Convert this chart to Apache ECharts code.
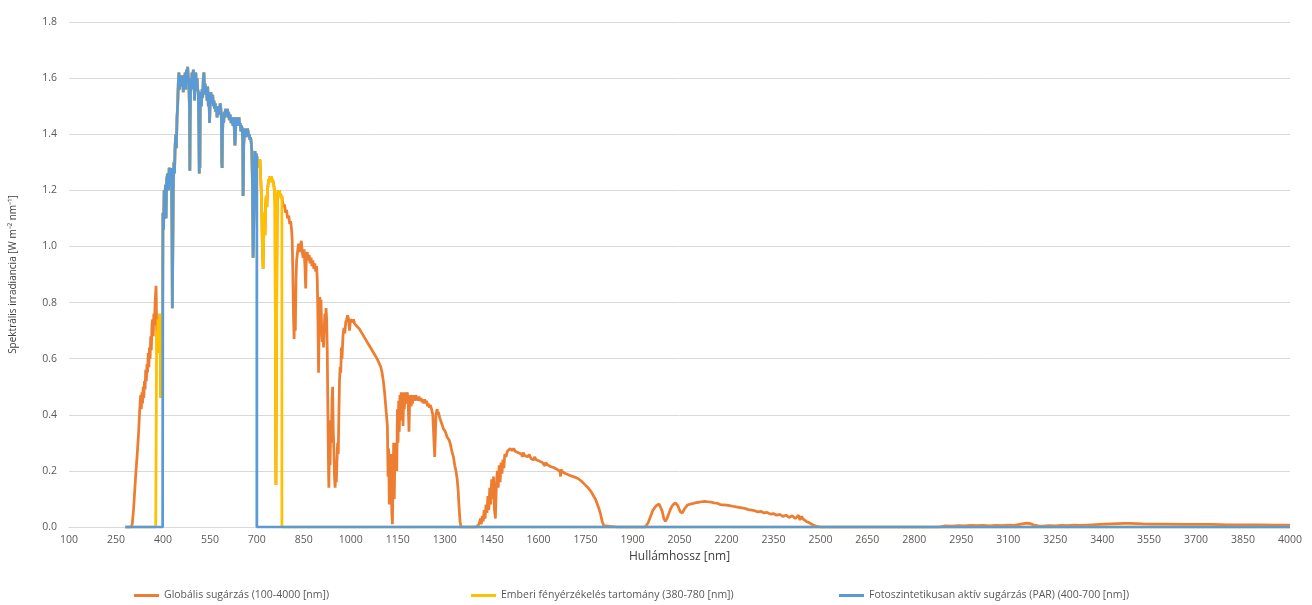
<!DOCTYPE html>
<html>
<head>
<meta charset="utf-8">
<script src="https://cdn.jsdelivr.net/npm/echarts@6/dist/echarts.min.js"></script>
<style>
html,body{margin:0;padding:0;background:#fff;}
#chart{width:1312px;height:605px;}
</style>
</head>
<body>
<div id="chart"></div>
<script>
// Tick labels of the wavelength axis (nm)
const xTickLabels = [100,250,400,550,700,850,1000,1150,1300,1450,1600,1750,1900,2050,2200,2350,2500,2650,2800,2950,3100,3250,3400,3550,3700,3850,4000];

// Series names
const seriesNames = [
  'Globális sugárzás (100-4000 [nm])',
  'Emberi fényérzékelés tartomány (380-780 [nm])',
  'Fotoszintetikusan aktív sugárzás (PAR) (400-700 [nm])'
];

// Ranges of the two sub-band series (nm)
const visibleRange = [380, 780];
const parRange = [400, 700];

// Global spectral irradiance [W m-2 nm-1]: [wavelength nm, value]
const globalUV = [
  [280,0],[290,0],[298,0],[302,0.01],[306,0.06],[310,0.13],[314,0.2],[318,0.26],[322,0.33],[325,0.4],
  [327,0.44],[329,0.47],[331,0.42],[333,0.48],[335,0.44],[337,0.5],[339,0.46],[341,0.52],[343,0.49],
  [345,0.56],[347,0.52],[349,0.58],[351,0.55],[353,0.62],[355,0.57],[357,0.64],[359,0.6],[361,0.68],
  [363,0.63],[365,0.72],[367,0.74],[369,0.68],[371,0.76],[373,0.72],[375,0.8],[377,0.84],[378,0.86],
  [379,0.8],[380,0.7],[382,0.62],[384,0.74],[386,0.66],[388,0.72],[390,0.76],[392,0.58],[393,0.46],
  [394,0.62],[396,0.48],[397,0.52],[399,0.78]
];
const globalVis = [
  [400,1.12],[402,1.06],[404,1.2],[406,1.16],[408,1.22],[410,1.1],[412,1.24],[415,1.26],[418,1.2],
  [420,1.28],[423,1.27],[425,1.22],[427,1.28],[429,1.05],[430,0.78],[431,0.9],[433,1.2],[435,1.3],
  [437,1.26],[439,1.36],[441,1.4],[443,1.35],[445,1.46],[447,1.5],[449,1.58],[451,1.62],[453,1.56],
  [455,1.6],[457,1.58],[459,1.61],[461,1.57],[463,1.6],[465,1.55],[467,1.61],[469,1.58],[471,1.62],
  [473,1.56],[475,1.63],[477,1.6],[479,1.64],[481,1.6],[483,1.58],[485,1.48],[486,1.27],[487,1.45],
  [489,1.6],[491,1.56],[493,1.62],[495,1.58],[497,1.63],[499,1.6],[501,1.52],[503,1.58],[505,1.62],
  [507,1.56],[509,1.6],[511,1.56],[513,1.55],[515,1.4],[516,1.26],[517,1.35],[518,1.28],[519,1.48],
  [521,1.55],[523,1.5],[525,1.56],[527,1.53],[529,1.6],[531,1.62],[533,1.55],[535,1.58],[537,1.54],
  [539,1.56],[541,1.52],[543,1.57],[545,1.5],[547,1.54],[549,1.44],[551,1.52],[553,1.55],[555,1.53],
  [557,1.51],[559,1.54],[561,1.5],[563,1.52],[565,1.49],[567,1.51],[569,1.48],[571,1.5],[573,1.46],
  [575,1.49],[577,1.47],[579,1.5],[581,1.48],[583,1.51],[585,1.49],[587,1.45],[588,1.3],[589,1.28],
  [590,1.38],[592,1.47],[594,1.44],[596,1.48],[598,1.46],[600,1.49],[602,1.47],[604,1.48],[606,1.49],
  [608,1.46],[610,1.48],[612,1.45],[614,1.47],[616,1.46],[618,1.44],[620,1.46],[622,1.45],[624,1.43],
  [626,1.46],[628,1.42],[630,1.36],[631,1.38],[633,1.44],[635,1.46],[637,1.43],[639,1.45],[641,1.44],
  [643,1.46],[645,1.43],[647,1.44],[649,1.41],[651,1.43],[653,1.42],[655,1.38],[656,1.18],[657,1.22],
  [658,1.36],[660,1.4],[662,1.42],[664,1.39],[666,1.42],[668,1.4],[670,1.42],[672,1.41],[674,1.39],
  [676,1.4],[678,1.38],[680,1.39],[682,1.37],[684,1.34],[686,1.22],[688,0.96],[689,1.0],[690,1.08],
  [692,1.2],[694,1.34],[696,1.3],[698,1.33],[700,1.32],
  [702,1.3],[704,1.31],[706,1.28],[708,1.3],[710,1.31],[712,1.25],[714,1.2],[716,1.1],[718,0.98],
  [720,0.92],[722,1.05],[724,1.12],[726,1.04],[728,1.15],[730,1.18],[732,1.14],[734,1.2],[736,1.22],
  [738,1.24],[740,1.23],[742,1.25],[744,1.24],[746,1.25],[748,1.23],[750,1.24],[752,1.23],[754,1.22],
  [756,1.2],[758,1.15],[759,0.8],[760,0.3],[761,0.15],[762,0.4],[763,0.7],[764,0.95],[765,1.1],
  [766,1.18],[768,1.2],[770,1.19],[772,1.2],[774,1.18],[776,1.19],[778,1.17],[780,1.18]
];
const globalNIR1 = [
  [782,1.16],[785,1.14],[788,1.15],[792,1.12],[795,1.13],[798,1.1],[802,1.11],[805,1.08],[808,1.09],
  [811,1.06],[813,1.02],[815,0.9],[817,0.75],[819,0.67],[821,0.8],[823,0.7],[825,0.88],[827,0.95],
  [830,0.98],[833,1.01],[836,0.98],[839,1.0],[842,1.02],[845,0.98],[848,0.96],[851,0.99],[854,0.92],
  [856,0.85],[858,0.96],[861,0.98],[864,0.95],[867,0.97],[870,0.94],[873,0.96],[876,0.93],[879,0.95],
  [882,0.92],[885,0.94],[888,0.91],[891,0.93],[893,0.88],[895,0.75],[897,0.55],[899,0.7],[901,0.82],
  [903,0.78],[905,0.81],[907,0.7],[909,0.66],[911,0.72],[913,0.64],[915,0.7],[917,0.76],[919,0.72],
  [921,0.78],[923,0.74],[925,0.62],[927,0.4],[929,0.2],[930,0.14],[932,0.3],[934,0.22],[936,0.38],
  [938,0.3],[940,0.45],[942,0.5],[944,0.35],[946,0.28],[948,0.18],[950,0.14],[952,0.2],[954,0.16],
  [956,0.24],[958,0.3],[960,0.26],[962,0.4],[964,0.52],[966,0.57],[968,0.55],[970,0.64],[972,0.6],
  [975,0.68],[978,0.71],[981,0.69],[984,0.73],[987,0.74],[990,0.755],[993,0.74],[996,0.7],[999,0.74]
];
const globalNIR2 = [
  [1003,0.745],[1006,0.73],[1009,0.74],[1012,0.725],[1016,0.73],[1020,0.715],[1024,0.72],[1028,0.705],
  [1032,0.71],[1036,0.69],[1040,0.695],[1044,0.675],[1048,0.68],[1052,0.66],[1056,0.665],[1060,0.645],
  [1064,0.65],[1068,0.63],[1072,0.635],[1076,0.615],[1080,0.62],[1084,0.6],[1088,0.6],[1092,0.58],
  [1096,0.57],[1100,0.55],[1104,0.52],[1108,0.48],
  [1111,0.44],[1114,0.4],[1117,0.36],[1119,0.18],[1121,0.28],[1123,0.08],[1125,0.22],[1127,0.12],
  [1129,0.26],[1131,0.05],[1133,0.01],[1135,0.15],[1137,0.3],[1139,0.1],[1141,0.27],[1143,0.22],
  [1145,0.3],[1147,0.2],[1149,0.42],[1151,0.3],[1153,0.45],[1155,0.34],[1157,0.47],[1159,0.38],
  [1161,0.48],[1163,0.4],[1165,0.48],[1167,0.36],[1169,0.47],[1171,0.42],[1174,0.48],[1177,0.44],
  [1180,0.48],[1183,0.46],[1186,0.34],[1188,0.45],[1191,0.47],[1193,0.43],[1195,0.46],[1197,0.44],
  [1199,0.47],[1201,0.45],[1203,0.47],[1206,0.45],[1208,0.47],[1211,0.455],[1213,0.465],[1216,0.45],
  [1218,0.465],[1221,0.45],[1224,0.46],[1227,0.445],[1230,0.455],[1233,0.44],[1236,0.455],[1239,0.44],
  [1242,0.45],[1245,0.43],[1248,0.44],[1251,0.425],[1254,0.435],[1258,0.42],[1262,0.4],[1266,0.3],
  [1268,0.25],[1270,0.32],[1272,0.4],[1276,0.42],[1278,0.4],[1280,0.41],[1284,0.39],[1287,0.385],
  [1290,0.37],[1293,0.365],[1296,0.35],[1299,0.355],[1302,0.34],[1305,0.335],[1308,0.32],[1311,0.325],
  [1314,0.31],[1317,0.3],[1319,0.29],[1322,0.275],[1324,0.265],[1328,0.25],[1332,0.22],[1336,0.2],
  [1340,0.17],[1343,0.13],[1346,0.07],[1349,0.02],[1352,0],[1380,0],[1400,0]
];
const globalSWIR1 = [
  [1405,0.002],[1410,0.01],[1414,0.03],[1417,0.01],[1420,0.04],[1423,0.02],[1426,0.06],[1429,0.03],
  [1432,0.08],[1435,0.05],[1438,0.11],[1441,0.06],[1444,0.14],[1447,0.08],[1450,0.17],[1453,0.1],
  [1456,0.18],[1459,0.06],[1462,0.03],[1465,0.15],[1468,0.2],[1471,0.14],[1474,0.22],[1477,0.16],
  [1480,0.23],[1483,0.19],[1486,0.24],[1489,0.21],[1492,0.26],[1496,0.25],[1500,0.27],[1505,0.275],
  [1510,0.28],[1515,0.272],[1520,0.28],[1525,0.27],[1530,0.276],[1535,0.265],[1540,0.27],[1545,0.26],
  [1548,0.25],[1551,0.265],[1555,0.255],[1560,0.262],[1565,0.25],[1570,0.258],[1575,0.245],[1580,0.252],
  [1584,0.238],[1587,0.25],[1592,0.24],[1597,0.243],[1602,0.235],[1607,0.238],[1612,0.23],[1617,0.232],
  [1620,0.218],[1623,0.23],[1628,0.222],[1633,0.225],[1638,0.215],[1643,0.22],[1648,0.212],[1653,0.215],
  [1658,0.206],[1663,0.21],[1668,0.198],[1670,0.18],[1672,0.205],[1677,0.196],[1682,0.197],[1687,0.19],
  [1692,0.192],[1697,0.185],[1702,0.188],[1707,0.181],[1712,0.184],[1717,0.177],[1722,0.18],[1727,0.172],
  [1732,0.172],[1737,0.163],[1742,0.16],[1747,0.152],[1752,0.15],[1757,0.141],[1762,0.138],[1767,0.127],
  [1772,0.12],[1777,0.108],[1782,0.098],[1787,0.083],[1792,0.068],[1797,0.05],[1800,0.035],[1803,0.02],
  [1808,0.005],[1812,0],[1850,0],[1900,0],[1940,0]
];
const globalSWIR2 = [
  [1945,0.005],[1950,0.015],[1955,0.03],[1960,0.045],[1965,0.06],[1970,0.065],[1975,0.075],[1980,0.08],
  [1985,0.082],[1990,0.075],[1995,0.055],[2000,0.03],[2005,0.02],[2010,0.03],[2015,0.045],[2020,0.06],
  [2025,0.072],[2030,0.08],[2037,0.086],[2045,0.075],[2052,0.055],[2059,0.05],[2066,0.065],[2075,0.078],
  [2083,0.081],[2091,0.083],[2100,0.086],[2110,0.088],[2120,0.09],[2130,0.091],[2140,0.09],[2150,0.089],
  [2160,0.086],[2170,0.085],[2180,0.08],[2190,0.079],[2200,0.078],[2210,0.076],[2220,0.074],[2230,0.072],
  [2240,0.07],[2250,0.068],[2260,0.066],[2270,0.062],[2280,0.06],[2290,0.058],[2300,0.054],[2310,0.056],
  [2320,0.05],[2330,0.052],[2340,0.046],[2350,0.048],[2360,0.042],[2370,0.045],[2380,0.038],[2390,0.042],
  [2400,0.034],[2410,0.04],[2420,0.03],[2430,0.042],[2435,0.025],[2440,0.038],[2445,0.028],[2450,0.035],
  [2455,0.02],[2460,0.025],[2465,0.015],[2470,0.012],[2475,0.008],[2480,0.005],[2490,0.002],[2500,0]
];
const globalMIR = [
  [2600,0],[2700,0],[2800,0],[2880,0],[2890,0.002],[2900,0.004],[2920,0.003],[2940,0.005],[2960,0.004],
  [2980,0.006],[3000,0.005],[3020,0.006],[3040,0.004],[3060,0.006],[3080,0.005],[3100,0.007],[3120,0.006],
  [3140,0.01],[3160,0.014],[3170,0.012],[3180,0.008],[3195,0.004],[3210,0.003],[3230,0.005],[3250,0.004],
  [3270,0.006],[3290,0.005],[3310,0.007],[3330,0.006],[3350,0.007],[3370,0.008],[3390,0.009],[3410,0.01],
  [3430,0.011],[3450,0.012],[3470,0.013],[3490,0.013],[3510,0.012],[3530,0.011],[3560,0.01],[3600,0.01],
  [3650,0.009],[3700,0.009],[3750,0.009],[3800,0.008],[3850,0.008],[3900,0.008],[3950,0.007],[4000,0.007]
];

const globalData = [].concat(globalUV, globalVis, globalNIR1, globalNIR2, globalSWIR1, globalSWIR2, globalMIR);

// Sub-band series: same measurement, zero outside the band (vertical edges at band limits)
function bandSeries(data, range) {
  const out = [];
  let prevIn = false, lastX = null;
  for (const [x, y] of data) {
    const inR = x >= range[0] && x <= range[1];
    if (inR && !prevIn) out.push([x, 0]);
    if (!inR && prevIn) out.push([lastX, 0]);
    out.push([x, inR ? y : 0]);
    prevIn = inR; lastX = x;
  }
  return out;
}

const colors = ['#ED7D31', '#FFC000', '#5B9BD5'];
const font = '"Open Sans", "Liberation Sans", sans-serif';
const chart = echarts.init(document.getElementById('chart'));
chart.setOption({
  animation: false,
  color: colors,
  textStyle: { fontFamily: font },
  grid: { left: 68, right: 22, top: 22, bottom: 78 },
  legend: [
    { data: [seriesNames[0]], left: 129, top: 585 },
    { data: [seriesNames[1]], left: 466, top: 585 },
    { data: [seriesNames[2]], left: 834, top: 585 }
  ].map(l => Object.assign(l, {
    icon: 'rect', itemWidth: 25, itemHeight: 3, itemGap: 7,
    textStyle: { color: '#595959', fontSize: 10.5, fontFamily: font }
  })),
  xAxis: {
    type: 'value', min: 100, max: 4000,
    name: 'Hullámhossz [nm]', nameLocation: 'middle', nameGap: 22,
    nameTextStyle: { color: '#404040', fontSize: 12, fontFamily: font },
    axisLine: { lineStyle: { color: '#D9D9D9' } },
    axisTick: { show: false },
    splitLine: { show: false },
    axisLabel: { customValues: xTickLabels, color: '#595959', fontSize: 10.5, margin: 8, formatter: v => String(v) }
  },
  yAxis: {
    type: 'value', min: 0, max: 1.8, interval: 0.2,
    name: 'Spektrális irradiancia [W m⁻² nm⁻¹]', nameLocation: 'middle', nameGap: 51,
    nameTextStyle: { color: '#404040', fontSize: 10, fontFamily: font },
    axisLine: { show: false }, axisTick: { show: false },
    splitLine: { lineStyle: { color: '#D9D9D9' } },
    axisLabel: { color: '#595959', fontSize: 10.5, margin: 12, formatter: v => v.toFixed(1) }
  },
  series: [
    { name: seriesNames[0], type: 'line', data: globalData, symbol: 'none', lineStyle: { width: 2.75, color: colors[0] } },
    { name: seriesNames[1], type: 'line', data: bandSeries(globalData, visibleRange), symbol: 'none', lineStyle: { width: 2.75, color: colors[1] } },
    { name: seriesNames[2], type: 'line', data: bandSeries(globalData, parRange), symbol: 'none', lineStyle: { width: 2.75, color: colors[2] } }
  ]
});
</script>
</body>
</html>
